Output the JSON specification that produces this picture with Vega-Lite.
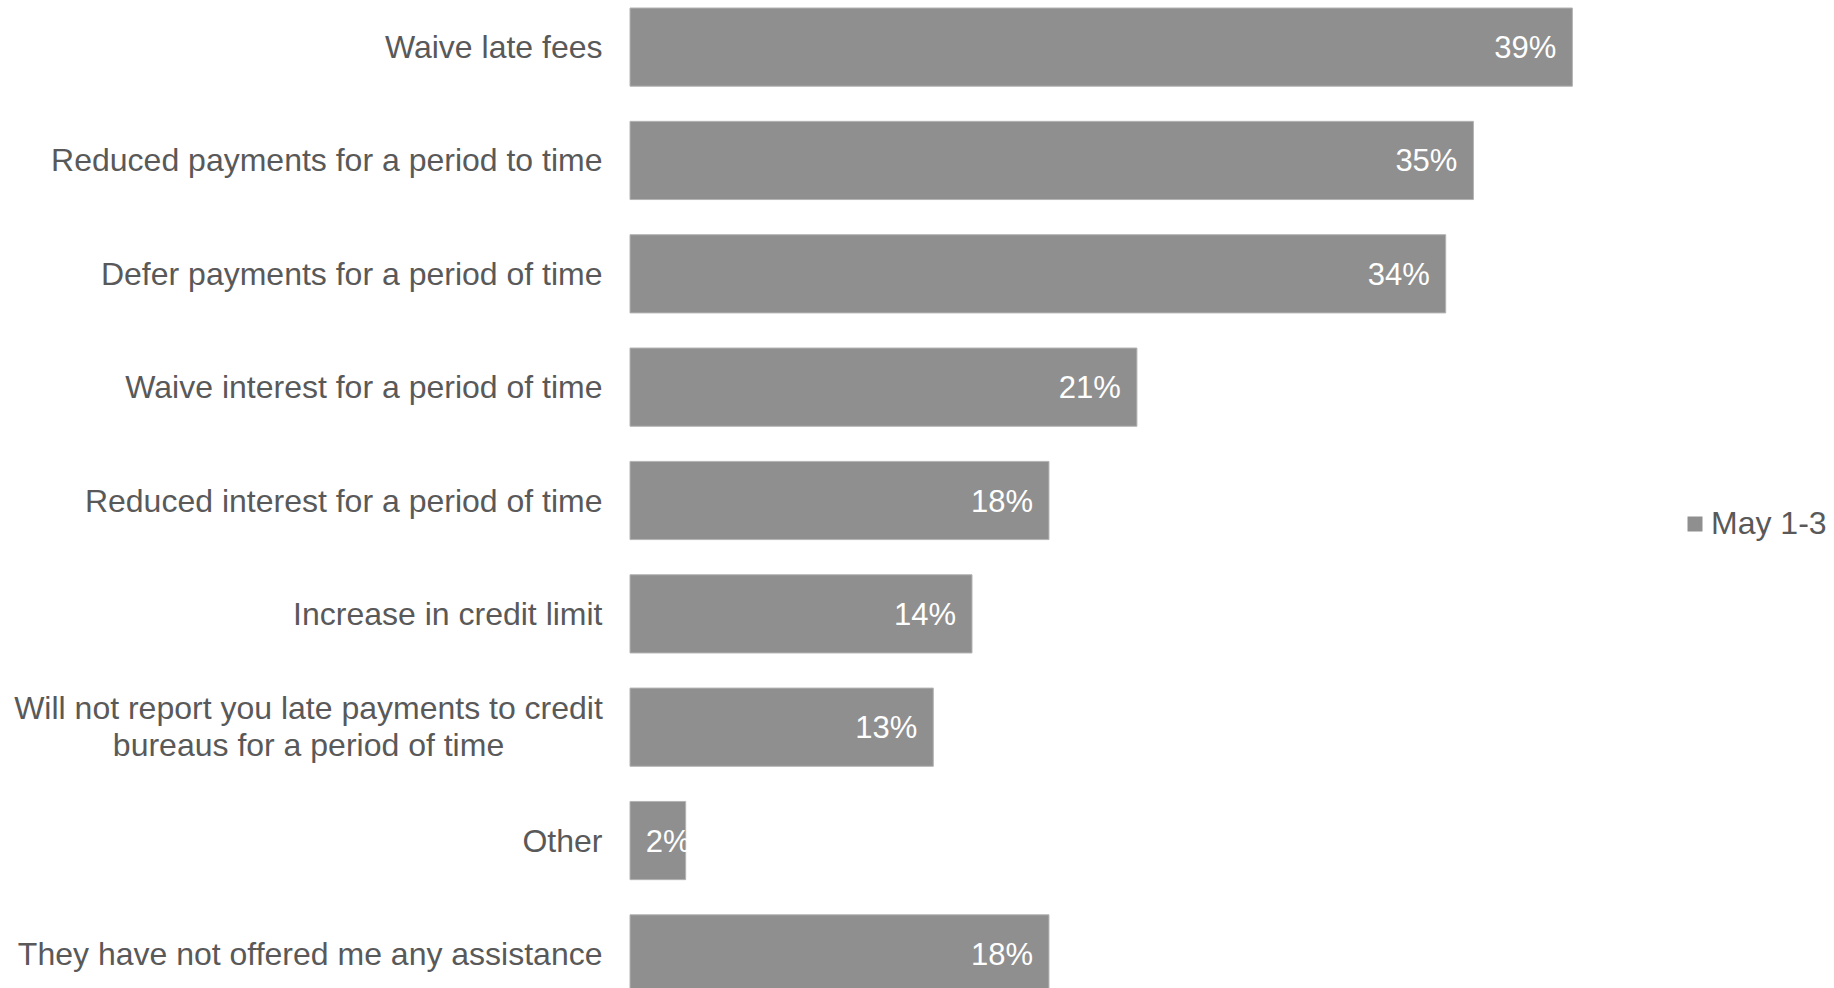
{
  "$schema": "https://vega.github.io/schema/vega-lite/v6.json",
  "autosize": {"type": "none"},
  "padding": {"left": 630, "top": 8, "right": 248, "bottom": 0},
  "width": 956,
  "height": 985,
  "background": "white",
  "config": {"view": {"stroke": null}, "font": "Liberation Sans"},
  "data": {
    "values": [
      {"option": "Waive late fees", "share": 0.3943, "period": "May 1-3"},
      {"option": "Reduced payments for a period to time", "share": 0.3529, "period": "May 1-3"},
      {"option": "Defer payments for a period of time", "share": 0.3413, "period": "May 1-3"},
      {"option": "Waive interest for a period of time", "share": 0.2121, "period": "May 1-3"},
      {"option": "Reduced interest for a period of time", "share": 0.1753, "period": "May 1-3"},
      {"option": "Increase in credit limit", "share": 0.1431, "period": "May 1-3"},
      {"option": "Will not report you late payments to credit\nbureaus for a period of time", "share": 0.1269, "period": "May 1-3"},
      {"option": "Other", "share": 0.0233, "period": "May 1-3"},
      {"option": "They have not offered me any assistance", "share": 0.1753, "period": "May 1-3"}
    ]
  },
  "encoding": {
    "y": {
      "field": "option",
      "type": "nominal",
      "sort": null,
      "scale": {"paddingInner": 0.31, "paddingOuter": 0},
      "axis": {
        "title": null,
        "domain": false,
        "ticks": false,
        "grid": false,
        "labelFontSize": 32,
        "labelColor": "#595959",
        "labelLimit": 0,
        "labelLineHeight": 37,
        "labelExpr": "split(datum.label, '\\n')",
        "labelAlign": {"condition": {"test": "indexof(datum.value, 'Will not') == 0", "value": "center"}, "value": "right"},
        "labelPadding": {"condition": {"test": "indexof(datum.value, 'Will not') == 0", "value": 322}, "value": 28},
        "labelOffset": {"condition": {"test": "indexof(datum.value, 'Will not') == 0", "value": -18}, "value": 1}
      }
    },
    "x": {
      "field": "share",
      "type": "quantitative",
      "scale": {"domain": [0, 0.4]},
      "axis": null
    }
  },
  "layer": [
    {
      "mark": {"type": "bar", "stroke": "#b3b3b3", "strokeWidth": 1},
      "encoding": {
        "color": {
          "field": "period",
          "type": "nominal",
          "scale": {"range": ["#8f8f8f"]},
          "legend": {
            "title": null,
            "orient": "none",
            "legendX": 1049,
            "legendY": 500,
            "padding": 0,
            "symbolType": "square",
            "symbolSize": 225,
            "symbolStrokeWidth": 0,
            "labelFontSize": 32,
            "labelColor": "#595959",
            "labelOffset": 0
          }
        }
      }
    },
    {
      "mark": {"type": "text", "align": "right", "baseline": "middle", "dx": {"expr": "datum.share < 0.05 ? 5 : -16"}, "dy": 2, "fontSize": 31, "color": "white"},
      "encoding": {
        "text": {"field": "share", "type": "quantitative", "format": ".0%"}
      }
    }
  ]
}
